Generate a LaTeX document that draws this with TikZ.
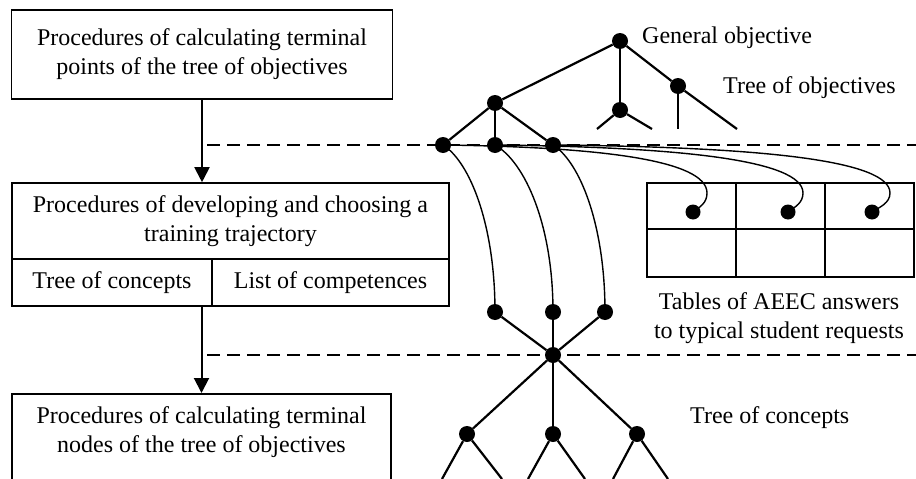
\documentclass[tikz,border=0pt]{standalone}
\usepackage{fontspec}
\setmainfont{Liberation Serif}
\usetikzlibrary{arrows.meta}
\begin{document}
\begin{tikzpicture}[x=1pt,y=-1pt,
  box/.style={draw,line width=1.6pt,inner sep=0pt,align=center},
  dot/.style={circle,fill=black,inner sep=0pt,minimum size=16pt},
  sdot/.style={circle,fill=black,inner sep=0pt,minimum size=15pt},
  tl/.style={line width=2.2pt},
  cl/.style={line width=1.4pt},
  flow/.style={line width=2pt,-{Triangle[length=15pt,width=15pt]}},
  dsh/.style={line width=1.5pt,dash pattern=on 13pt off 7pt},
  txt/.style={font=\fontsize{24}{29}\selectfont,align=center,inner sep=0pt}]
\useasboundingbox (0,0) rectangle (916,479);
\clip (0,0) rectangle (916,479);
% left boxes
\node[box,txt,minimum width=381pt,minimum height=89pt] (box1) at (202,54.5)
  {Procedures of calculating terminal\\points of the tree of objectives};
\node[box,txt,minimum width=437pt,minimum height=76pt] (box2t) at (230.5,221)
  {Procedures of developing and choosing a\\training trajectory};
\node[box,txt,minimum width=200pt,minimum height=47pt] (box2l) at (112,282.5) {Tree of concepts};
\node[box,txt,minimum width=237pt,minimum height=47pt] (box2r) at (330.5,282.5) {List of competences};
\node[box,minimum width=379pt,minimum height=120pt,anchor=north] (box3) at (201.5,393) {};
\node[txt] (box3t) at (201.5,432)
  {Procedures of calculating terminal\\nodes of the tree of objectives};
\draw[flow] (box1.south) -- (box1.south |- box2t.north);
\draw[flow] (box3.north |- box2l.south) -- (box3.north);
% dashed lines
\coordinate (d1a) at (207,145); \coordinate (d1b) at (916,145);
\coordinate (d2a) at (207,355); \coordinate (d2b) at (916,355);
\draw[dsh] (d1a) -- (d1b);
\draw[dsh] (d2a) -- (d2b);
% table
\node[draw,line width=1.6pt,minimum width=89pt,minimum height=46pt,inner sep=0pt] (t11) at (691.5,206) {};
\node[draw,line width=1.6pt,minimum width=89pt,minimum height=46pt,inner sep=0pt] (t12) at (780.5,206) {};
\node[draw,line width=1.6pt,minimum width=89pt,minimum height=46pt,inner sep=0pt] (t13) at (869.5,206) {};
\node[draw,line width=1.6pt,minimum width=89pt,minimum height=48pt,inner sep=0pt] (t21) at (691.5,253) {};
\node[draw,line width=1.6pt,minimum width=89pt,minimum height=48pt,inner sep=0pt] (t22) at (780.5,253) {};
\node[draw,line width=1.6pt,minimum width=89pt,minimum height=48pt,inner sep=0pt] (t23) at (869.5,253) {};
\node[sdot] (p1) at (693,212) {};
\node[sdot] (p2) at (788,212) {};
\node[sdot] (p3) at (872,212) {};
% tree of objectives
\node[dot] (G) at (620,41) {};
\node[dot] (A) at (495,103) {};
\node[dot] (B) at (620,110) {};
\node[dot] (C) at (678,86) {};
\coordinate (Ce) at (737,129);
\coordinate (Cv) at (678,129);
\coordinate (Bl) at (597,129);
\coordinate (Br) at (652,129);
\node[dot] (L1) at (443,145) {};
\node[dot] (L2) at (495,145) {};
\node[dot] (L3) at (553,145) {};
\draw[tl] (G) -- (A);
\draw[tl] (G) -- (B);
\draw[tl] (G) -- (C);
\draw[tl] (C) -- (Ce);
\draw[tl] (C) -- (Cv);
\draw[tl] (B) -- (Bl);
\draw[tl] (B) -- (Br);
\draw[tl] (A) -- (L1);
\draw[tl] (A) -- (L2);
\draw[tl] (A) -- (L3);
% middle nodes
\node[dot] (M1) at (495,312) {};
\node[dot] (M2) at (553,312) {};
\node[dot] (M3) at (605,312) {};
\node[dot] (X) at (553,355) {};
\draw[cl] (L1.center) .. controls (470,162) and (495,225) .. (M1.center);
\draw[cl] (L2.center) .. controls (525,162) and (553,225) .. (M2.center);
\draw[cl] (L3.center) .. controls (580,162) and (605,225) .. (M3.center);
\draw[cl] (L1.center) .. controls (600,147) and (707,160) .. (707,193) .. controls (707,203) and (700,207) .. (p1.center);
\draw[cl] (L2.center) .. controls (680,147) and (803,160) .. (803,193) .. controls (803,203) and (795,207) .. (p2.center);
\draw[cl] (L3.center) .. controls (760,147) and (890,160) .. (890,193) .. controls (890,203) and (880,207) .. (p3.center);
\draw[tl] (M1) -- (X);
\draw[tl] (M2) -- (X);
\draw[tl] (M3) -- (X);
% tree of concepts
\node[dot] (K1) at (467,434) {};
\node[dot] (K2) at (553,434) {};
\node[dot] (K3) at (637,434) {};
\coordinate (k1a) at (442,479); \coordinate (k1b) at (502,479);
\coordinate (k2a) at (528,479); \coordinate (k2b) at (585,479);
\coordinate (k3a) at (613,479); \coordinate (k3b) at (668,479);
\draw[tl] (X) -- (K1);
\draw[tl] (X) -- (K2);
\draw[tl] (X) -- (K3);
\draw[tl] (K1) -- (k1a); \draw[tl] (K1) -- (k1b);
\draw[tl] (K2) -- (k2a); \draw[tl] (K2) -- (k2b);
\draw[tl] (K3) -- (k3a); \draw[tl] (K3) -- (k3b);
% labels
\node[txt,anchor=west] (lg) at (642,38) {General objective};
\node[txt,anchor=west] (lt) at (723,88) {Tree of objectives};
\node[txt] (ltab) at (779,318) {Tables of AEEC answers\\to typical student requests};
\node[txt,anchor=west] (lc) at (690,418) {Tree of concepts};
\end{tikzpicture}
\end{document}
